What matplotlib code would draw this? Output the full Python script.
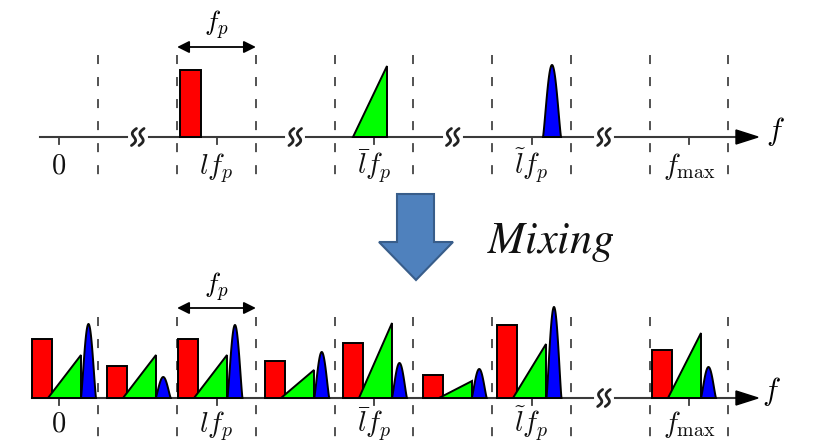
import numpy as np
import matplotlib
matplotlib.use('Agg')
import matplotlib.pyplot as plt
from matplotlib.patches import Polygon, Rectangle

plt.rcParams['mathtext.fontset'] = 'cm'

# ---------------- data ----------------
tick_pos = [0, 2, 4, 6, 8]
tick_labels = [r'$0$', r'$lf_p$', r'$\bar{l}f_p$', r'$\tilde{l}f_p$', r'$f_{\max}$']
band_edges = [0.5, 1.5, 2.5, 3.5, 4.5, 5.5, 6.5, 7.5, 8.5]
top_breaks = [1.0, 3.0, 5.0, 6.92]
bottom_breaks = [6.92]

# before mixing (one component per band)
top_red = dict(x=1.537, w=0.267, h=67)
top_green = dict(x0=3.733, x1=4.165, h=71)
top_blue = dict(x0=6.146, x1=6.375, h=72)

# after mixing: every band holds all three components
mix_centers = [0, 1, 2, 3, 4, 5, 6, 8]
mix_shift = [-0.343, -0.394, -0.483, -0.381, -0.394, -0.381, -0.432, -0.470]
mix_red = [59, 32, 59, 37, 55, 23, 73, 48]
mix_green = [43, 43, 43, 28, 75, 17, 54, 65]
mix_blue = [74, 21, 73, 46, 35, 29, 91, 31]

# ---------------- layout ----------------
W, H = 813, 446
PX = 1 / 78.75          # f_p units per pixel
X0 = 59                 # pixel of f = 0
TOP_BASE = 309
BOT_BASE = 48
LABEL_FS = 20.5

fig = plt.figure(figsize=(W / 100, H / 100), dpi=100)
ax = fig.add_axes([0, 0, 1, 1])
ax.set_xlim(-X0 * PX, (W - X0) * PX)
ax.set_ylim(0, H)
ax.axis('off')

AXC = '#3a3a3a'
EC = 'black'


def red_bar(x, w, h, base):
    ax.add_patch(Rectangle((x, base), w, h, facecolor='#ff0000', edgecolor=EC, lw=1.4, zorder=3))


def green_tri(x0, x1, h, base):
    ax.add_patch(Polygon([(x0, base), (x1, base), (x1, base + h)], closed=True,
                         facecolor='#00ff00', edgecolor=EC, lw=1.4, zorder=4))


def blue_peak(x0, x1, h, base):
    t = np.linspace(-1, 1, 80)
    y = h * np.cos(np.pi * t / 2) ** 1.2
    x = x0 + (t + 1) / 2 * (x1 - x0)
    ax.add_patch(Polygon(np.column_stack([x, base + y]), closed=True,
                         facecolor='#0000ff', edgecolor=EC, lw=1.4, zorder=5))


def break_mark(xc, base):
    t = np.linspace(-1, 1, 60)
    for off in (-3.8, 3.8):
        x = xc + (off - 2.8 * np.sin(np.pi * t) + 2.5 * t) * PX
        y = base + 8.5 * t
        ax.plot(x, y, color='#222222', lw=2.0, zorder=6, solid_capstyle='round')


def axis_line(x_start, base, breaks):
    pts = [x_start]
    for b in breaks:
        pts += [b - 11 * PX, b + 11 * PX]
    pts.append(738 * PX - X0 * PX)
    for a, c in zip(pts[0::2], pts[1::2]):
        ax.plot([a, c], [base, base], color=AXC, lw=1.5, zorder=2)
    for b in breaks:
        break_mark(b, base)
    tip = (758 - X0) * PX
    bs = (736 - X0) * PX
    ax.add_patch(Polygon([(bs, base - 7), (tip, base), (bs, base + 7)], closed=True,
                         facecolor='black', edgecolor='black', lw=1, zorder=6))
    for tp in tick_pos:
        ax.plot([tp, tp], [base, base - 7], color=AXC, lw=1.3, zorder=2)


def dashed(y_top, y_bot):
    for e in band_edges:
        ax.plot([e, e], [y_top, y_bot], color='#444444', lw=1.3,
                ls=(0, (5.0, 7.2)), zorder=1)


def tick_text(base_y):
    for tp, lab in zip(tick_pos, tick_labels):
        ax.text(tp, base_y, lab, ha='center', va='baseline', fontsize=LABEL_FS, color='#111111')


def fp_arrow(y, label_y):
    ax.annotate('', xy=(2.5, y), xytext=(1.5, y),
                arrowprops=dict(arrowstyle='<|-|>', color='black', lw=1.3,
                                shrinkA=0, shrinkB=0, mutation_scale=18))
    ax.text(2.0, label_y, r'$f_p$', ha='center', va='baseline', fontsize=19.5)


# ---------------- top panel ----------------
dashed(H - 55, H - 178)
axis_line((40 - X0) * PX, TOP_BASE, top_breaks)
red_bar(top_red['x'], top_red['w'], top_red['h'], TOP_BASE)
green_tri(top_green['x0'], top_green['x1'], top_green['h'], TOP_BASE)
blue_peak(top_blue['x0'], top_blue['x1'], top_blue['h'], TOP_BASE)
tick_text(H - 174)
fp_arrow(H - 47, H - 31)
ax.text((775 - X0) * PX, H - 131, r'$f$', ha='center', va='center', fontsize=22)

# ---------------- bottom panel ----------------
dashed(H - 317, H - 437)
axis_line((32 - X0) * PX, BOT_BASE, bottom_breaks)
for c, s, r, g, b in zip(mix_centers, mix_shift, mix_red, mix_green, mix_blue):
    left = c + s
    red_bar(left, 20 * PX, r, BOT_BASE)
    green_tri(left + 16 * PX, left + 49 * PX, g, BOT_BASE)
    blue_peak(left + 49 * PX, left + 64 * PX, b, BOT_BASE)
tick_text(H - 432)
fp_arrow(H - 308, H - 293)
ax.text((771 - X0) * PX, H - 391, r'$f$', ha='center', va='center', fontsize=22)

# ---------------- mixing arrow ----------------
arrow_px = [(397, 194), (434, 194), (434, 242), (453, 242), (416, 280), (379, 242), (397, 242)]
fig.patches.append(Polygon([(x / W, 1 - y / H) for x, y in arrow_px], closed=True,
                           transform=fig.transFigure, facecolor='#4F81BD',
                           edgecolor='#385D8A', lw=1.5))
fig.text(487 / W, 1 - 243 / H, r'$\mathit{Mixing}$', math_fontfamily='stix',
         fontsize=32, va='center', ha='left', color='#111111')

fig.savefig('out.png', dpi=100)
